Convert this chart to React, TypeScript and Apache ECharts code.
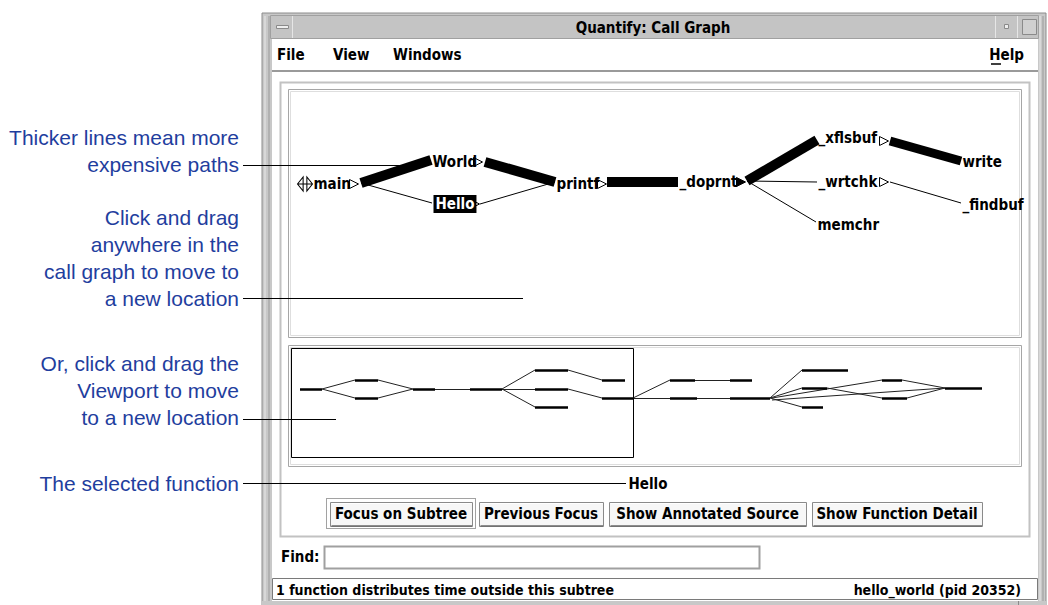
import React, { useEffect, useRef } from "react";
import * as echarts from "echarts";

// ---- call graph (main panel) ----
const nodeNames = ["main", "World", "Hello", "printf", "_doprnt", "_xflsbuf", "_wrtchk", "memchr", "write", "_findbuf"];
const nodeLeft = [313, 432, 433, 556, 679, 818, 818, 817, 962, 962];
const nodeY = [184, 162, 204, 184, 182, 138, 182, 225, 162, 205];
const nodeInY = [184, 160, 203, 182, 182, 140, 182, 222, 161, 203];
const nodeOutX = [361, 485, 480, 607, 747, 890, 890, 0, 0, 0];
const nodeOutY = [183, 162, 204, 182, 181, 141, 182, 0, 0, 0];
const arrowX = [354, 478, 475, 602, 741, 884, 884];
const arrowY = [184, 162, 204, 184, 182, 141, 182];
const arrowFilled = [false, false, false, false, true, false, false];
// [source, target, weight]
const callEdges = [
  [0, 1, 10], [0, 2, 1], [1, 3, 10], [2, 3, 1], [3, 4, 10],
  [4, 5, 10], [4, 6, 1], [4, 7, 1], [5, 8, 9], [6, 9, 1],
];
const selectedNode = "Hello";

// ---- viewport overview (mini panel) ----
const miniThick = [
  [300, 322, 389], [355, 378, 380], [355, 378, 398], [413, 435, 389], [470, 502, 389],
  [535, 568, 370], [535, 568, 389], [535, 568, 407], [602, 625, 380], [602, 633, 398],
  [670, 695, 380], [730, 752, 380], [670, 697, 398], [730, 770, 398],
  [802, 848, 370], [802, 827, 388], [802, 823, 407], [882, 902, 380], [882, 907, 398], [945, 982, 388],
];
const miniThin = [
  [322, 389, 355, 380], [322, 389, 355, 398], [378, 380, 413, 389], [378, 398, 413, 389],
  [435, 389, 470, 389], [502, 389, 535, 370], [502, 389, 535, 389], [502, 389, 535, 407],
  [568, 370, 602, 380], [568, 389, 602, 398], [633, 398, 670, 380], [633, 398, 670, 398],
  [695, 380, 730, 380], [697, 398, 730, 398], [770, 398, 802, 370], [770, 398, 802, 388],
  [770, 398, 802, 407], [772, 398, 882, 380], [827, 388, 882, 398], [772, 400, 945, 388],
  [902, 380, 945, 388], [907, 398, 945, 388],
];

// ---- texts ----
const menuItems = ["File", "View", "Windows"];
const menuX = [277, 333, 393];
const buttonLabels = ["Focus on Subtree", "Previous Focus", "Show Annotated Source", "Show Function Detail"];
const buttonX = [330, 479, 609, 812];
const buttonW = [142, 124, 197, 170];
const noteLines = [
  ["Thicker lines mean more", "expensive paths"],
  ["Click and drag", "anywhere in the", "call graph to move to", "a new location"],
  ["Or, click and drag the", "Viewport to move", "to a new location"],
  ["The selected function"],
];
const noteLastY = [164, 298, 417, 483];
const leaderEndX = [400, 523, 336, 626];
const leaderY = [165, 298, 419, 483];

const UI = "'Liberation Sans Narrow', 'DejaVu Sans Condensed', 'Liberation Sans', sans-serif";
const NOTE = "'Liberation Sans', Arial, sans-serif";
const NOTE_COLOR = "#1f3e9e";

function uiText(text: string, x: number, y: number, align = "left", size = 15, extra: any = {}) {
  return {
    type: "text", x, y, z: 10,
    style: { text, fill: "#000", fontSize: size, fontWeight: "bold", fontFamily: UI, textAlign: align, textVerticalAlign: "middle", ...extra },
  };
}

function rect(x: number, y: number, w: number, h: number, style: any, z = 1) {
  return { type: "rect", z, shape: { x, y, width: w, height: h }, style };
}
function line(x1: number, y1: number, x2: number, y2: number, stroke: string, lw = 1, z = 2, extra: any = {}) {
  return { type: "line", z, shape: { x1, y1, x2, y2 }, style: { stroke, lineWidth: lw, ...extra } };
}

export default function App() {
  const ref = useRef<HTMLDivElement>(null);
  useEffect(() => {
    if (!ref.current) return;
    const chart = echarts.init(ref.current, null, { renderer: "svg" });

    const graphics: any[] = [];
    // window frame
    graphics.push(rect(262, 13, 784, 600, { fill: "#c8c8c8", stroke: "#8c8c8c", lineWidth: 1 }, 0));
    graphics.push(line(265, 16, 265, 605, "#e8e8e8", 1, 1));
    graphics.push(line(269, 16, 269, 605, "#9a9a9a", 1, 1));
    graphics.push(line(1040, 16, 1040, 605, "#e8e8e8", 1, 1));
    graphics.push(line(1043, 16, 1043, 605, "#9a9a9a", 1, 1));
    // title bar
    graphics.push(rect(270.5, 15.5, 768, 23, { fill: "#c4c4c4", stroke: "#a0a0a0", lineWidth: 1 }, 1));
    graphics.push(line(292.5, 16, 292.5, 38, "#e6e6e6", 1, 2));
    graphics.push(line(995.5, 16, 995.5, 38, "#e6e6e6", 1, 2));
    graphics.push(line(1017.5, 16, 1017.5, 38, "#e6e6e6", 1, 2));
    graphics.push(rect(276.5, 25.5, 12, 3, { fill: "#eeeeee", stroke: "#8a8a8a", lineWidth: 1 }, 2));
    graphics.push(rect(1004.5, 24.5, 4, 4, { fill: "#eeeeee", stroke: "#8a8a8a", lineWidth: 1 }, 2));
    graphics.push(rect(1022.5, 19.5, 14, 15, { fill: "#d0d0d0", stroke: "#8a8a8a", lineWidth: 1 }, 2));
    graphics.push(uiText("Quantify: Call Graph", 653, 28, "center", 15));
    // client area
    graphics.push(rect(272, 39, 766, 566, { fill: "#ffffff" }, 1));
    // menu bar
    graphics.push(line(272, 71, 1038, 71, "#9a9a9a", 2, 2));
    menuItems.forEach((m, i) => graphics.push(uiText(m, menuX[i], 55, "left", 15)));
    graphics.push(uiText("Help", 1024, 55, "right", 15));
    graphics.push(line(991, 64, 1001, 64, "#000", 1.5, 3));
    // group panel
    graphics.push(rect(280.5, 82.5, 749, 454, { fill: "none", stroke: "#c2c2c2", lineWidth: 2 }, 2));
    // graph panel
    graphics.push(rect(288.5, 89.5, 733, 248, { fill: "#ffffff", stroke: "#a6a6a6", lineWidth: 1 }, 2));
    graphics.push(rect(290.5, 91.5, 729, 244, { fill: "none", stroke: "#dedede", lineWidth: 1 }, 2));
    // mini panel
    graphics.push(rect(288.5, 345.5, 733, 121, { fill: "#ffffff", stroke: "#a6a6a6", lineWidth: 1 }, 2));
    graphics.push(rect(290.5, 347.5, 729, 117, { fill: "none", stroke: "#dedede", lineWidth: 1 }, 2));
    // viewport
    graphics.push(rect(291.5, 348.5, 342, 109, { fill: "none", stroke: "#000", lineWidth: 1 }, 6));
    // selected
    graphics.push(uiText(selectedNode, 648, 484, "center", 15));
    // buttons
    graphics.push(rect(326.5, 498.5, 149, 30, { fill: "none", stroke: "#444", lineWidth: 1, lineDash: [1, 1] }, 3));
    buttonLabels.forEach((b, i) => {
      graphics.push(rect(buttonX[i] + 0.5, 502.5, buttonW[i], 24, { fill: "#f7f7f7", stroke: "#8a8a8a", lineWidth: 1 }, 3));
      graphics.push(line(buttonX[i] + 1.5, 503.5, buttonX[i] + buttonW[i] - 0.5, 503.5, "#ffffff", 1, 4));
      graphics.push(line(buttonX[i] + 1.5, 526, buttonX[i] + buttonW[i], 526, "#6a6a6a", 1.5, 4));
      graphics.push(uiText(b, buttonX[i] + buttonW[i] / 2, 514, "center", 15));
    });
    // find
    graphics.push(uiText("Find:", 281, 557, "left", 15));
    graphics.push(rect(324.5, 546.5, 435, 22, { fill: "#ffffff", stroke: "#a0a0a0", lineWidth: 2 }, 3));
    // status bar
    graphics.push(rect(272.5, 578.5, 765, 21, { fill: "#ffffff", stroke: "#7a7a7a", lineWidth: 1 }, 3));
    graphics.push(uiText("1 function distributes time outside this subtree", 276, 590, "left", 14));
    graphics.push(uiText("hello_world (pid 20352)", 1021, 590, "right", 14));
    graphics.push(rect(262, 601, 784, 4, { fill: "#c8c8c8" }, 4));
    graphics.push(line(1018.5, 601, 1018.5, 605, "#8a8a8a", 1, 5));

    // annotations
    noteLines.forEach((lines, gi) => {
      lines.forEach((t, li) => {
        const y = noteLastY[gi] - (lines.length - 1 - li) * 27;
        graphics.push({
          type: "text", x: 239, y, z: 12,
          style: { text: t, fill: NOTE_COLOR, fontSize: 21, fontFamily: NOTE, textAlign: "right", textVerticalAlign: "middle" },
        });
      });
      graphics.push(line(243, leaderY[gi] + 0.5, leaderEndX[gi], leaderY[gi] + 0.5, "#000", 1, 12));
    });

    const edgeData = callEdges.map(([s, t, w]) => ({
      coords: [[nodeOutX[s], nodeOutY[s]], [nodeLeft[t] - 1, nodeInY[t]]],
      lineStyle: { width: w },
    }));

    const miniThickData = miniThick.map(([x1, x2, y]) => ({ coords: [[x1, y], [x2, y]] }));
    const miniThinData = miniThin.map(([x1, y1, x2, y2]) => ({ coords: [[x1, y1], [x2, y2]] }));

    const labelData = nodeNames.map((n, i) => ({
      name: n,
      value: [nodeLeft[i], nodeY[i]],
      label: n === selectedNode
        ? { backgroundColor: "#000", color: "#fff", padding: [2, 2, 1, 2] }
        : {},
    }));

    const arrowData = arrowX.map((x, i) => ({
      value: [x, arrowY[i]],
      itemStyle: { color: arrowFilled[i] ? "#000" : "#fff" },
    }));

    const option: any = {
      animation: false,
      backgroundColor: "#ffffff",
      grid: { left: 0, top: 0, width: 1048, height: 605, show: false },
      xAxis: { type: "value", min: 0, max: 1048, show: false },
      yAxis: { type: "value", min: 0, max: 605, inverse: true, show: false },
      graphic: graphics,
      series: [
        {
          type: "lines", coordinateSystem: "cartesian2d", z: 5, silent: true,
          data: edgeData,
          lineStyle: { color: "#000", opacity: 1, cap: "butt" },
        },
        {
          type: "lines", coordinateSystem: "cartesian2d", z: 5, silent: true,
          data: miniThinData,
          lineStyle: { color: "#222", opacity: 1, width: 1 },
        },
        {
          type: "lines", coordinateSystem: "cartesian2d", z: 5, silent: true,
          data: miniThickData,
          lineStyle: { color: "#000", opacity: 1, width: 2.5, cap: "butt" },
        },
        {
          type: "scatter", z: 7, silent: true,
          symbolSize: 1,
          itemStyle: { color: "rgba(0,0,0,0)", opacity: 1 },
          data: labelData,
          label: {
            show: true, position: "right", distance: 0, opacity: 1,
            formatter: "{b}", color: "#000", fontSize: 15, fontWeight: "bold", fontFamily: UI,
          },
        },
        {
          type: "scatter", z: 7, silent: true,
          symbol: "path://M0,0L10,5L0,10Z",
          symbolSize: [9, 9],
          itemStyle: { borderColor: "#000", borderWidth: 1, opacity: 1 },
          data: arrowData,
        },
        {
          type: "scatter", z: 7, silent: true,
          symbol: "path://M0,6L6,0L6,12Z M16,6L10,0L10,12Z M0,6L16,6",
          symbolSize: [15, 14],
          itemStyle: { color: "#fff", borderColor: "#000", borderWidth: 1, opacity: 1 },
          data: [[305, 184]],
        },
      ],
    };
    chart.setOption(option);
    return () => chart.dispose();
  }, []);
  return (
    <div
      ref={ref}
      style={{ position: "fixed", left: 0, top: 0, width: 1048, height: 605 }}
    />
  );
}
